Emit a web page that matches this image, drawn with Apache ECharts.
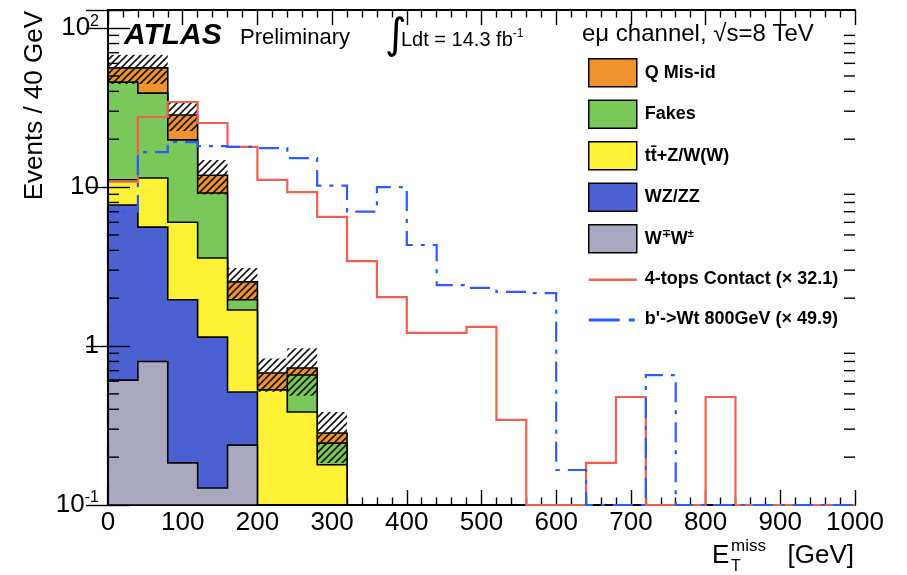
<!DOCTYPE html>
<html>
<head>
<meta charset="utf-8">
<script src="https://cdn.jsdelivr.net/npm/echarts@6/dist/echarts.min.js"></script>
<style>
html,body{margin:0;padding:0;background:#fff;}
#c{width:907px;height:575px;}
</style>
</head>
<body>
<div id="c"></div>
<script>
// ---------------- data ----------------
const binEdges = [0,40,80,120,160,200,240,280,320,360,400,440,480,520,560,600,640,680,720,760,800,840,880,920,960,1000];
// background stack (bins 0-320 GeV), bottom to top
const wwValues    = [0.61, 0.80, 0.184, 0.128, 0.238, 0, 0, 0];
const wzzzValues  = [7.1, 4.8, 1.77, 1.01, 0.276, 0, 0, 0];
const ttvValues   = [3.4, 5.8, 4.05, 2.44, 1.17, 0.53, 0.385, 0.179];
const fakesValues = [34.6, 27.6, 13.8, 5.6, 0.27, 0, 0.272, 0.066];
const qmisValues  = [10.5, 17.2, 8.6, 2.7, 0.58, 0.146, 0.07, 0.039];
const bkgErr      = [11.7, 11.7, 5.9, 2.9, 0.56, 0.16, 0.24, 0.10];
// signals
const fourTops = [10.8, 27.6, 34.3, 25.3, 17.9, 11.1, 9.3, 6.5, 3.42, 2.03, 1.21, 1.21, 1.32, 0.343, 0, 0, 0.184, 0.478, 0, 0, 0.478, 0, 0, 0, 0];
const bprime   = [7.0, 16.6, 19.2, 18.1, 17.9, 17.6, 15.2, 10.2, 7.0, 10.0, 4.32, 2.42, 2.32, 2.19, 2.15, 0.166, 0, 0, 0.657, 0, 0, 0, 0, 0, 0];
// axes
const xTickValues = [0,100,200,300,400,500,600,700,800,900,1000];
const yTickLabels = {'-1':'10{sup|-1}', '0':'1', '1':'10', '2':'10{sup|2}'};
const yMinorTicks = [0.2,0.3,0.4,0.5,0.6,0.7,0.8,0.9, 2,3,4,5,6,7,8,9, 20,30,40,50,60,70,80,90];
const legendNames = ['Q Mis-id','Fakes','tt\u0304+Z/W(W)','WZ/ZZ','W\u2213W\u00b1','4-tops Contact (\u00d7 32.1)',"b'->Wt 800GeV (\u00d7 49.9)"];

// ---------------- style ----------------
const X_MIN = 0, X_MAX = 1000, Y_MIN = 0.1, Y_MAX = 130;
const FONT = '"Liberation Sans", Arial, Helvetica, sans-serif';
const COLORS = {qmis:'#f0922d', fakes:'#7ac85a', ttv:'#fff236', wz:'#4b61d1', ww:'#a8a8bf', red:'#f0604f', blue:'#2a5cff'};

function clampY(v){ return Math.max(v, Y_MIN); }
function stepPoints(vals){
  const pts = [[binEdges[0], Y_MIN]];
  for (let i = 0; i < vals.length; i++) {
    const v = clampY(vals[i]);
    pts.push([binEdges[i], v], [binEdges[i+1], v]);
  }
  pts.push([binEdges[vals.length], Y_MIN]);
  return pts;
}
function cumulate(arrs){
  const out = []; let run = arrs[0].map(() => 0);
  arrs.forEach(a => { run = run.map((r, i) => r + a[i]); out.push(run.slice()); });
  return out;
}
const cum = cumulate([wwValues, wzzzValues, ttvValues, fakesValues, qmisValues]);
const total = cum[4];

function makeHatch(){
  const s = 7, c = document.createElement('canvas');
  c.width = s; c.height = s;
  const g = c.getContext('2d');
  g.strokeStyle = '#111'; g.lineWidth = 1.6;
  g.beginPath();
  g.moveTo(0, s); g.lineTo(s, 0);
  g.moveTo(-1, 1); g.lineTo(1, -1);
  g.moveTo(s-1, s+1); g.lineTo(s+1, s-1);
  g.stroke();
  return c;
}
const hatch = makeHatch();

function layerSeries(name, color, vals, z){
  return {
    type:'custom', name, coordinateSystem:'cartesian2d', z,
    itemStyle:{color, borderColor:'#000', borderWidth:1.5},
    data:[[X_MIN, 1]],
    renderItem(params, api){
      const pts = stepPoints(vals).map(p => api.coord(p));
      return {type:'polygon', shape:{points:pts}, style:{fill:color, stroke:'#000', lineWidth:1.6}};
    }
  };
}
function lineSeries(name, color, vals, z, dash){
  return {
    type:'custom', name, coordinateSystem:'cartesian2d', z,
    itemStyle:{color},
    data:[[X_MIN, 1]],
    renderItem(params, api){
      const pts = stepPoints(vals).map(p => api.coord(p));
      return {type:'polyline', shape:{points:pts},
        style:{fill:null, stroke:color, lineWidth:2.2, lineDash:dash || null}};
    }
  };
}

const axisLine = {show:true, lineStyle:{color:'#000', width:2}};
const xAxisCommon = {
  type:'value', min:X_MIN, max:X_MAX, interval:100,
  axisLine, splitLine:{show:false},
  axisTick:{show:true, inside:true, length:15, lineStyle:{color:'#000', width:1.4}},
  minorTick:{show:true, splitNumber:5, length:7.5, lineStyle:{color:'#000', width:1.4}}
};
const yAxisCommon = {
  type:'log', logBase:10, min:Y_MIN, max:Y_MAX, z:20,
  axisLine, splitLine:{show:false},
  axisTick:{show:true, inside:true, length:22, lineStyle:{color:'#000', width:1.4}}
};

const option = {
  animation:false,
  backgroundColor:'#fff',
  grid:{left:108, right:52, top:10, bottom:70},
  xAxis:[
    Object.assign({}, xAxisCommon, {position:'bottom',
      axisLabel:{show:true, margin:5, color:'#000', fontSize:26, fontFamily:FONT,
        formatter: v => xTickValues.indexOf(Math.round(v)) >= 0 ? String(Math.round(v)) : ''}}),
    Object.assign({}, xAxisCommon, {position:'top', axisLabel:{show:false}})
  ],
  yAxis:[
    Object.assign({}, yAxisCommon, {position:'left',
      axisLabel:{show:true, margin:9, color:'#000', fontSize:26, fontFamily:FONT,
        formatter: v => {
          const e = Math.log10(v), r = Math.round(e);
          if (Math.abs(e - r) > 1e-6) return '';
          return yTickLabels[String(r)] || '';
        },
        rich:{sup:{fontSize:16, fontFamily:FONT, color:'#000', padding:[0,0,14,0]}}}}),
    Object.assign({}, yAxisCommon, {position:'right', axisLabel:{show:false}})
  ],
  legend:{
    orient:'vertical', left:583, top:53, itemWidth:48, itemHeight:28, itemGap:12,
    selectedMode:false,
    textStyle:{fontSize:18, fontWeight:'bold', fontFamily:FONT, color:'#000', padding:[0,0,0,3],
      rich:{sup:{fontSize:11, fontWeight:'bold', fontFamily:FONT, color:'#000', padding:[0,0,9,0]}}},
    formatter: n => n === legendNames[4] ? 'W{sup|\u2213}W{sup|\u00b1}' : n,
    data:[
      {name:legendNames[0], icon:'rect', itemStyle:{color:COLORS.qmis, borderColor:'#000', borderWidth:1.5}},
      {name:legendNames[1], icon:'rect', itemStyle:{color:COLORS.fakes, borderColor:'#000', borderWidth:1.5}},
      {name:legendNames[2], icon:'rect', itemStyle:{color:COLORS.ttv, borderColor:'#000', borderWidth:1.5}},
      {name:legendNames[3], icon:'rect', itemStyle:{color:COLORS.wz, borderColor:'#000', borderWidth:1.5}},
      {name:legendNames[4], icon:'rect', itemStyle:{color:COLORS.ww, borderColor:'#000', borderWidth:1.5}},
      {name:legendNames[5], icon:'path://M0,0h0.01v0.01h-0.01zM0,13h48v2.6h-48zM47.99,27.99h0.01v0.01h-0.01z',
        itemStyle:{color:COLORS.red, borderWidth:0}},
      {name:legendNames[6], icon:'path://M0,0h0.01v0.01h-0.01zM0,13h31v3h-31zM40,13h6v3h-6zM47.99,27.99h0.01v0.01h-0.01z',
        itemStyle:{color:COLORS.blue, borderWidth:0}}
    ]
  },
  series:[
    layerSeries(legendNames[0], COLORS.qmis, cum[4], 2),
    layerSeries(legendNames[1], COLORS.fakes, cum[3], 3),
    layerSeries(legendNames[2], COLORS.ttv, cum[2], 4),
    layerSeries(legendNames[3], COLORS.wz, cum[1], 5),
    layerSeries(legendNames[4], COLORS.ww, cum[0], 6),
    {
      type:'custom', name:'stat. unc.', coordinateSystem:'cartesian2d', z:7,
      encode:{x:[0,1], y:[2,3]},
      data: total.map((t, i) => [binEdges[i], binEdges[i+1], clampY(t - bkgErr[i]), clampY(t + bkgErr[i])]),
      renderItem(params, api){
        const p0 = api.coord([api.value(0), api.value(3)]);
        const p1 = api.coord([api.value(1), api.value(2)]);
        return {type:'rect', shape:{x:p0[0], y:p0[1], width:p1[0]-p0[0], height:p1[1]-p0[1]},
          style:{fill:{image:hatch, repeat:'repeat'}, stroke:null}};
      }
    },
    lineSeries(legendNames[5], COLORS.red, fourTops, 8),
    lineSeries(legendNames[6], COLORS.blue, bprime, 9, [20, 8, 4, 8]),
    {
      type:'custom', name:'minor ticks', coordinateSystem:'cartesian2d', z:10,
      encode:{y:0},
      data: yMinorTicks.map(v => [v]),
      renderItem(params, api){
        const v = api.value(0);
        const pl = api.coord([X_MIN, v]), pr = api.coord([X_MAX, v]);
        const ls = {stroke:'#000', lineWidth:1.4};
        return {type:'group', children:[
          {type:'line', shape:{x1:pl[0], y1:pl[1], x2:pl[0]+11, y2:pl[1]}, style:ls},
          {type:'line', shape:{x1:pr[0], y1:pr[1], x2:pr[0]-11, y2:pr[1]}, style:ls}
        ]};
      }
    }
  ],
  graphic:[
    {type:'text', x:124, y:36, style:{text:'ATLAS', font:'italic bold 30px ' + FONT, fill:'#000', align:'left', verticalAlign:'middle'}},
    {type:'text', x:240, y:38, style:{text:'Preliminary', font:'22px ' + FONT, fill:'#000', align:'left', verticalAlign:'middle'}},
    {type:'text', x:385, y:37, style:{text:'\u222b', font:'42px "DejaVu Sans", ' + FONT, fill:'#000', align:'left', verticalAlign:'middle'}},
    {type:'text', x:401, y:40, style:{text:'Ldt = 14.3 fb{sup|-1}', font:'20px ' + FONT, fill:'#000', align:'left', verticalAlign:'middle',
      rich:{sup:{font:'12px ' + FONT, fill:'#000', padding:[0,0,12,0]}}}},
    {type:'text', x:582, y:34, style:{text:'e\u03bc channel, \u221as=8 TeV', font:'24px ' + FONT, fill:'#000', align:'left', verticalAlign:'middle'}},
    {type:'text', x:35, y:11, rotation:Math.PI/2, style:{text:'Events / 40 GeV', font:'26px ' + FONT, fill:'#000', align:'right', verticalAlign:'middle'}},
    {type:'text', x:712, y:556, style:{text:'E', font:'26px ' + FONT, fill:'#000', align:'left', verticalAlign:'middle'}},
    {type:'text', x:731, y:546, style:{text:'miss', font:'17px ' + FONT, fill:'#000', align:'left', verticalAlign:'middle'}},
    {type:'text', x:731, y:567, style:{text:'T', font:'16px ' + FONT, fill:'#000', align:'left', verticalAlign:'middle'}},
    {type:'text', x:854, y:556, style:{text:'[GeV]', font:'26px ' + FONT, fill:'#000', align:'right', verticalAlign:'middle'}}
  ]
};
const chart = echarts.init(document.getElementById('c'));
chart.setOption(option);
</script>
</body>
</html>
